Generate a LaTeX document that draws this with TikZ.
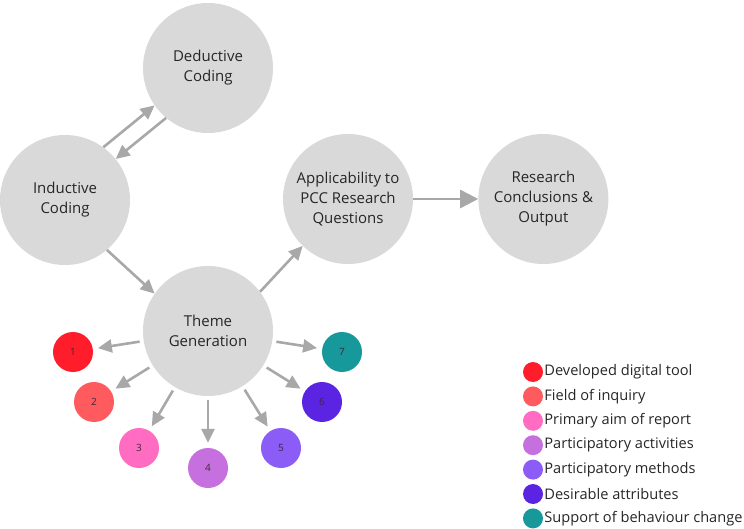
\documentclass[tikz,border=0pt]{standalone}
\usepackage{fontspec}
\setmainfont{Open Sans}
\usetikzlibrary{shapes.geometric, arrows.meta, positioning}
\definecolor{bubble}{HTML}{D9D9D9}
\definecolor{arrowgray}{HTML}{A8A8A8}
\definecolor{ink}{HTML}{262626}
\definecolor{numink}{HTML}{3A2A3A}
\definecolor{cone}{HTML}{FF1D2B}
\definecolor{ctwo}{HTML}{FF5A5E}
\definecolor{cthree}{HTML}{FF6CC2}
\definecolor{cfour}{HTML}{C670DF}
\definecolor{cfive}{HTML}{8B5CF6}
\definecolor{csix}{HTML}{5B24E2}
\definecolor{cseven}{HTML}{17989A}
\tikzstyle{topic} = [
	circle, 
	minimum size=130pt, 
	inner sep=0pt, 
	fill=bubble, 
	text=ink, 
	align=center, 
	font=\fontsize{15}{20}\selectfont]
\tikzstyle{themedot} = [
	circle, 
	minimum size=40pt, 
	inner sep=0pt, 
	text=numink, 
	font=\fontsize{10}{12}\selectfont]
\tikzstyle{keydot} = [
	circle, 
	minimum size=20pt, 
	inner sep=0pt]
\tikzstyle{keytext} = [
	inner xsep=1pt, 
	text=ink, 
	font=\fontsize{14.6}{16}\selectfont]
\tikzstyle{arrow} = [-{Triangle[length=14pt,width=13pt]}, line width=2.6pt, draw=arrowgray]
\tikzstyle{bigarrow} = [-{Triangle[length=18pt,width=18pt]}, line width=2.8pt, draw=arrowgray]

\begin{document}
\begin{tikzpicture}[x=1pt, y=1pt]
\useasboundingbox (0,0) rectangle (744,528);

% --- Nodes ---
\node (deduc) [topic] at (208,460) {Deductive \\ Coding};
\node (induc) [topic] at (65,328) {Inductive \\ Coding};
\node (theme) [topic] at (208,197) {Theme \\ Generation};
\node (applic) [topic] at (348,329) {Applicability to \\ PCC Research \\ Questions};
\node (concl) [topic, right=65pt of applic] {Research \\ Conclusions \& \\ Output};

\node (t1) [themedot, fill=cone] at (73,176) {1};
\node (t2) [themedot, fill=ctwo] at (94,126) {2};
\node (t3) [themedot, fill=cthree] at (139,80) {3};
\node (t4) [themedot, fill=cfour] at (208,60) {4};
\node (t5) [themedot, fill=cfive] at (281,80) {5};
\node (t6) [themedot, fill=csix] at (322,126) {6};
\node (t7) [themedot, fill=cseven] at (342,176) {7};

% legend
\node (k1) [keydot, fill=cone] at (533,156) {};
\node (k2) [keydot, fill=ctwo, below=4pt of k1] {};
\node (k3) [keydot, fill=cthree, below=4pt of k2] {};
\node (k4) [keydot, fill=cfour, below=4pt of k3] {};
\node (k5) [keydot, fill=cfive, below=4pt of k4] {};
\node (k6) [keydot, fill=csix, below=4pt of k5] {};
\node (k7) [keydot, fill=cseven, below=4pt of k6] {};

\node (kt1) [keytext, right=0pt of k1] {Developed digital tool};
\node (kt2) [keytext, right=0pt of k2] {Field of inquiry};
\node (kt3) [keytext, right=0pt of k3] {Primary aim of report};
\node (kt4) [keytext, right=0pt of k4] {Participatory activities};
\node (kt5) [keytext, right=0pt of k5] {Participatory methods};
\node (kt6) [keytext, right=0pt of k6] {Desirable attributes};
\node (kt7) [keytext, right=0pt of k7] {Support of behaviour change};

% --- Arrows ---
\draw [arrow] (induc.54) -- (deduc.215);
\draw [arrow] (deduc.230) -- (induc.39);
\draw [arrow] (induc.-50) -- (theme.145);
\draw [arrow] (theme.37) -- (applic.226);
\draw [bigarrow] (applic) -- (concl);

\draw [arrow, shorten <=4pt, shorten >=5pt] (theme) -- (t1);
\draw [arrow, shorten <=4pt, shorten >=5pt] (theme) -- (t2);
\draw [arrow, shorten <=4pt, shorten >=5pt] (theme) -- (t3);
\draw [arrow, shorten <=4pt, shorten >=5pt] (theme) -- (t4);
\draw [arrow, shorten <=4pt, shorten >=5pt] (theme) -- (t5);
\draw [arrow, shorten <=4pt, shorten >=5pt] (theme) -- (t6);
\draw [arrow, shorten <=4pt, shorten >=5pt] (theme) -- (t7);

\end{tikzpicture}
\end{document}
